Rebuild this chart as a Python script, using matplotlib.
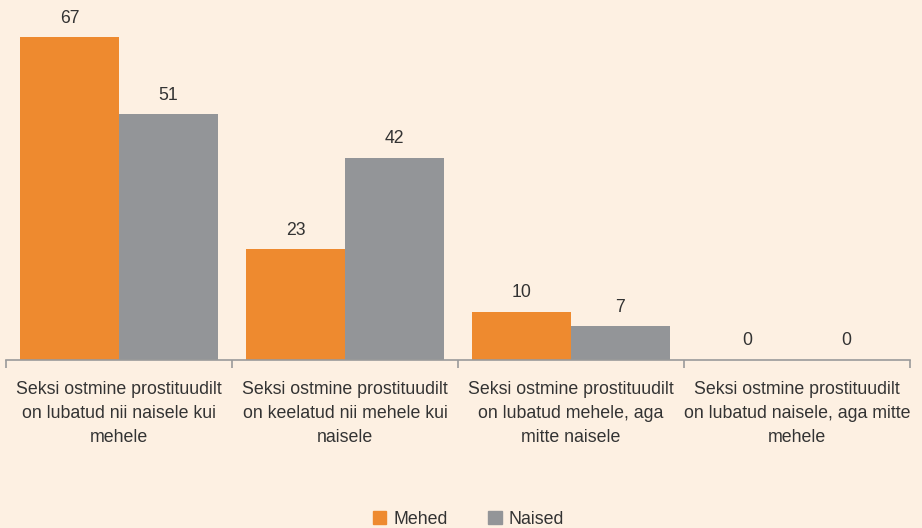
import numpy as np
import matplotlib.pyplot as plt
from matplotlib.patches import Patch

categories = [
    'Seksi ostmine prostituudilt\non lubatud nii naisele kui\nmehele',
    'Seksi ostmine prostituudilt\non keelatud nii mehele kui\nnaisele',
    'Seksi ostmine prostituudilt\non lubatud mehele, aga\nmitte naisele',
    'Seksi ostmine prostituudilt\non lubatud naisele, aga mitte\nmehele',
]
mehed = [67, 23, 10, 0]
naised = [51, 42, 7, 0]
series_names = ['Mehed', 'Naised']

bg = '#FDF0E2'
orange = '#EE8A2F'
gray = '#939598'
txt = '#333333'

plt.rcParams['font.family'] = ['Liberation Sans', 'DejaVu Sans']

fig = plt.figure(figsize=(9.22, 5.28), dpi=100, facecolor=bg)
ax = fig.add_axes([6 / 922, 168 / 528, 904 / 922, 360 / 528])
ax.set_facecolor(bg)

x = np.arange(len(categories))
w = 0.438
b1 = ax.bar(x - w / 2, mehed, w, color=orange, label=series_names[0])
b2 = ax.bar(x + w / 2, naised, w, color=gray, label=series_names[1])

for bars in (b1, b2):
    for r in bars:
        ax.text(r.get_x() + r.get_width() / 2, r.get_height() + 2.2,
                '%d' % r.get_height(), ha='center', va='bottom',
                fontsize=12.7, color=txt)

ax.set_xlim(-0.5, len(categories) - 0.5)
ax.set_ylim(0, 74.7)

for s in ['top', 'right', 'left']:
    ax.spines[s].set_visible(False)
ax.spines['bottom'].set_color('#9a9a9a')
ax.spines['bottom'].set_linewidth(1.2)
ax.set_yticks([])

ax.set_xticks(np.arange(-0.5, len(categories)), minor=False)
ax.set_xticklabels([])
ax.tick_params(axis='x', which='major', length=6, color='#9a9a9a', width=1.2)
ax.set_xticks(x, minor=True)
ax.set_xticklabels(categories, minor=True, fontsize=12.8, color=txt, linespacing=1.55)
ax.tick_params(axis='x', which='minor', length=0, pad=15)

handles = [Patch(color=orange), Patch(color=gray)]
fig.legend(handles, series_names, loc='lower center', ncol=2, frameon=False,
           bbox_to_anchor=(0.508, -0.03), fontsize=12.8, handlelength=0.75,
           handleheight=0.75, columnspacing=2.3, handletextpad=0.4,
           labelcolor=txt)

fig.savefig('out.png', dpi=100, facecolor=bg)
